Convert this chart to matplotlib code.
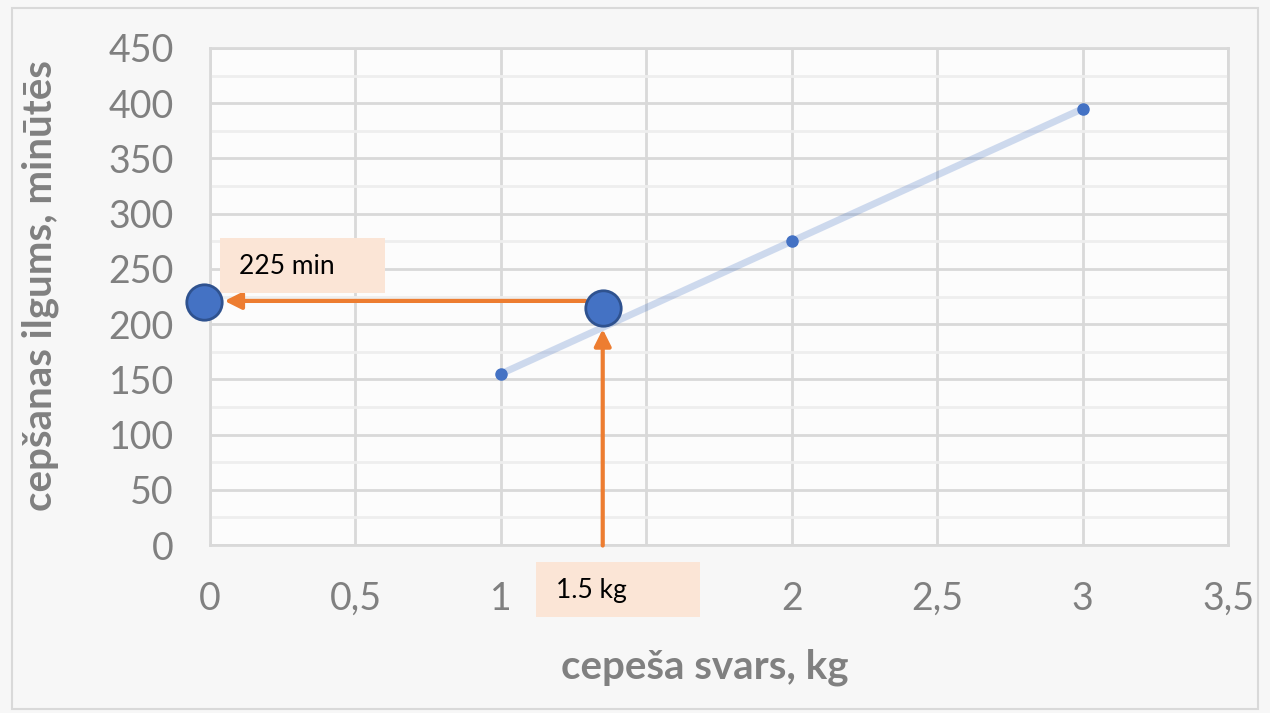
import matplotlib.pyplot as plt
from matplotlib.patches import Rectangle
from matplotlib.ticker import MultipleLocator

# Данные
weight = [1, 2, 3]          # кг
duration = [155, 275, 395]  # минуты
x_ticks = [0, 0.5, 1, 1.5, 2, 2.5, 3, 3.5]
x_tick_labels = ['0', '0,5', '1', '1,5', '2', '2,5', '3', '3,5']
y_ticks = list(range(0, 451, 50))

# Отмеченные точки (чтение графика)
mark_x = [-0.02, 1.35]
mark_y = [220, 215]
label_time = '225 min'
label_weight = '1.5 kg'

plt.rcParams['font.family'] = ['Lato', 'DejaVu Sans']

fig = plt.figure(figsize=(12.7, 7.13), dpi=100, facecolor='#f7f7f7')
fig.patches.append(Rectangle((0.0095, 0.005), 0.981, 0.984, transform=fig.transFigure,
                             fill=False, edgecolor='#d9d9d9', linewidth=1.5))
ax = fig.add_axes([0.1654, 0.2356, 0.8016, 0.6971])
ax.set_facecolor('#fcfcfc')

ax.set_xlim(0, 3.5)
ax.set_ylim(0, 450)
ax.set_xticks(x_ticks)
ax.set_xticklabels(x_tick_labels)
ax.set_yticks(y_ticks)
ax.yaxis.set_minor_locator(MultipleLocator(25))
ax.grid(True, which='major', color='#d9d9d9', linewidth=2)
ax.grid(True, which='minor', axis='y', color='#eeeeee', linewidth=2)
ax.set_axisbelow(True)
for s in ax.spines.values():
    s.set_color('#d9d9d9')
    s.set_linewidth(2)
ax.tick_params(which='both', length=0, labelsize=27, labelcolor='#808080', pad=26)

# Линия с точками
ax.plot(weight, duration, color='#4472c4', alpha=0.25, linewidth=5, solid_capstyle='round', zorder=3)
ax.plot(weight, duration, 'o', color='#4472c4', markersize=8, zorder=4)

# Стрелки
arrow_style = dict(arrowstyle='-|>', color='#ed7d31', linewidth=3, mutation_scale=25)
ax.annotate('', xy=(0.04, 221), xytext=(1.30, 221), arrowprops=arrow_style, zorder=5,
            annotation_clip=False)
ax.annotate('', xy=(mark_x[1], 198), xytext=(mark_x[1], -3), arrowprops=arrow_style, zorder=5,
            annotation_clip=False)

# Большие точки
ax.scatter(mark_x, mark_y, s=650, color='#4472c4', edgecolor='#2f528f', linewidth=2,
           zorder=6, clip_on=False)

# Подписи
ax.add_patch(Rectangle((0.034, 228), 0.568, 50, facecolor='#fbe5d6', edgecolor='none',
                       zorder=5, clip_on=False))
ax.text(0.1, 252, label_time, fontsize=19, color='black', va='center', zorder=7)
ax.add_patch(Rectangle((1.121, -65), 0.563, 50, facecolor='#fbe5d6', edgecolor='none',
                       zorder=5, clip_on=False))
ax.text(1.19, -41, label_weight, fontsize=19, color='black', va='center', zorder=7, clip_on=False)

ax.set_xlabel('cepeša svars, kg', fontsize=29, fontweight='bold', color='#808080', va='center')
ax.set_ylabel('cepšanas ilgums, minūtēs', fontsize=29, fontweight='bold', color='#808080', va='center')
ax.xaxis.set_label_coords(0.486, -0.245)
ax.yaxis.set_label_coords(-0.167, 0.523)

fig.savefig('out.png', dpi=100, facecolor=fig.get_facecolor())
